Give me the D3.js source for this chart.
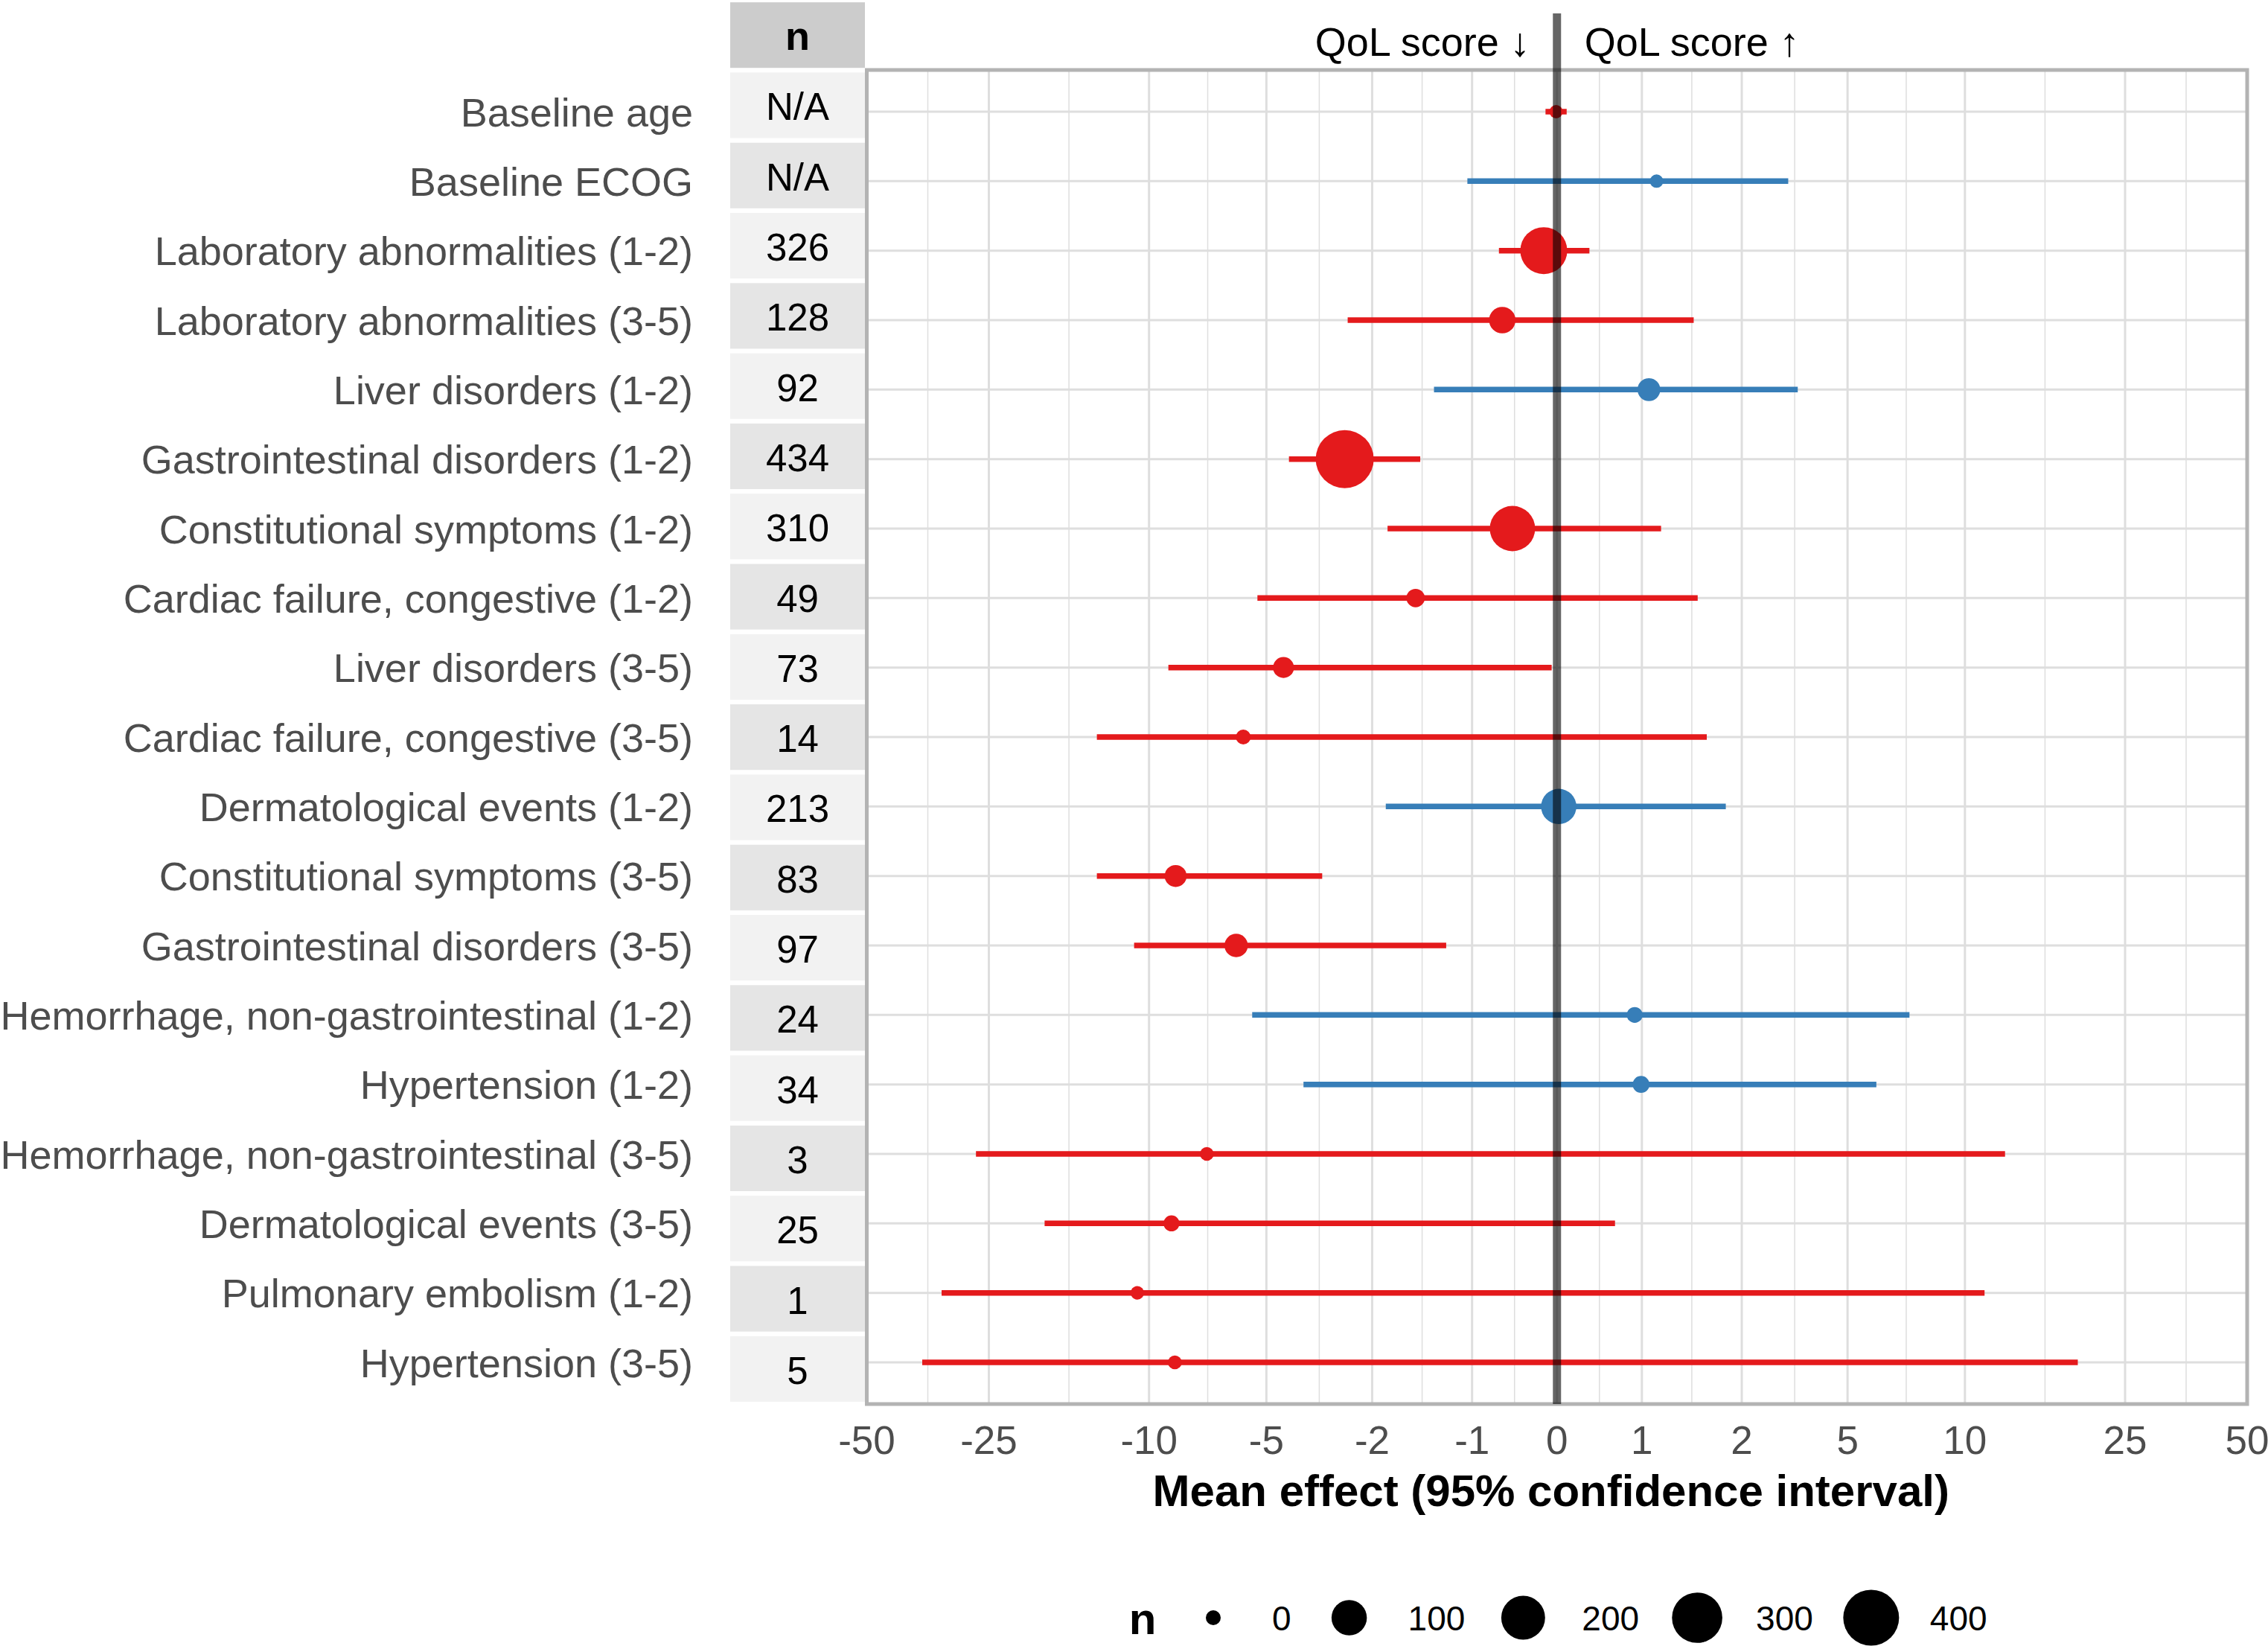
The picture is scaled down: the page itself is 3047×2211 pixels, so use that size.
<!DOCTYPE html>
<html>
<head>
<meta charset="utf-8">
<script src="https://cdn.jsdelivr.net/npm/d3@7"></script>
<style>
  html, body { margin: 0; padding: 0; background: #ffffff; }
  svg { display: block; }
  text { font-family: "Liberation Sans", Arial, Helvetica, sans-serif; }
</style>
</head>
<body>
<script>
// ---------------- DATA ----------------
const categories = [
  "Baseline age",
  "Baseline ECOG",
  "Laboratory abnormalities (1-2)",
  "Laboratory abnormalities (3-5)",
  "Liver disorders (1-2)",
  "Gastrointestinal disorders (1-2)",
  "Constitutional symptoms (1-2)",
  "Cardiac failure, congestive (1-2)",
  "Liver disorders (3-5)",
  "Cardiac failure, congestive (3-5)",
  "Dermatological events (1-2)",
  "Constitutional symptoms (3-5)",
  "Gastrointestinal disorders (3-5)",
  "Hemorrhage, non-gastrointestinal (1-2)",
  "Hypertension (1-2)",
  "Hemorrhage, non-gastrointestinal (3-5)",
  "Dermatological events (3-5)",
  "Pulmonary embolism (1-2)",
  "Hypertension (3-5)"
];
const nLabels = ["N/A","N/A","326","128","92","434","310","49","73","14","213","83","97","24","34","3","25","1","5"];
const nValues = [0, 0, 326, 128, 92, 434, 310, 49, 73, 14, 213, 83, 97, 24, 34, 3, 25, 1, 5];
const meanEffect = [-0.01, 1.19, -0.15, -0.63, 1.09, -3.03, -0.51, -1.78, -4.5, -5.75, 0.02, -8.57, -6.0, 0.91, 0.99, -7.14, -8.78, -10.7, -8.61];
const lowerCI   = [-0.13, -1.06, -0.67, -2.97, -1.51, -4.35, -2.23, -5.28, -8.94, -13.5, -2.26, -13.5, -10.9, -5.45, -3.97, -26.9, -18.2, -32.7, -36.5];
const upperCI   = [0.11, 3.44, 0.37, 1.71, 3.66, -1.71, 1.25, 1.77, -0.06, 1.91, 2.22, -3.52, -1.34, 7.24, 5.95, 12.6, 0.67, 11.2, 19.1];
const xTickValues = [-50, -25, -10, -5, -2.5, -1, 0, 1, 2.5, 5, 10, 25, 50];
const xTickLabels = ["-50", "-25", "-10", "-5", "-2", "-1", "0", "1", "2", "5", "10", "25", "50"];
const legendBreaks = [0, 100, 200, 300, 400];
const tableHeader = "n";
const annotLeft = "QoL score \u2193";
const annotRight = "QoL score \u2191";
const xTitle = "Mean effect (95% confidence interval)";

// ---------------- LAYOUT ----------------
const W = 3047, H = 2211;
const panel = { left: 1164.5, right: 3019, top: 94, bottom: 1886 };
const RED = "#E41A1C", BLUE = "#377EB8";

const svg = d3.select("body").append("svg")
  .attr("width", W).attr("height", H)
  .attr("viewBox", `0 0 ${W} ${H}`);
svg.append("rect").attr("width", W).attr("height", H).attr("fill", "#ffffff");

// pseudo-log transform (asinh(x/2)), as in R's pseudo_log_trans(sigma = 1)
const tr = v => Math.asinh(v / 2);
const xt = d3.scaleLinear().domain([tr(-50), tr(50)]).range([panel.left, panel.right]);
const x = v => xt(tr(v));

const y = d3.scalePoint().domain(categories).range([panel.top, panel.bottom]).padding(0.6);

const sizeScale = d3.scaleLinear().domain([0, 434]).range([18, 78]);     // diameter of data points
const legendSize = d3.scaleSqrt().domain([0, 400]).range([20, 75]);      // diameter of legend keys

// ---------------- GRID ----------------
const grid = svg.append("g");
const tMaj = xTickValues.map(tr);
const tMin = [];
for (let i = 0; i < tMaj.length - 1; i++) tMin.push((tMaj[i] + tMaj[i + 1]) / 2);
grid.selectAll("line.minor").data(tMin).join("line")
  .attr("class", "minor")
  .attr("x1", d => xt(d)).attr("x2", d => xt(d))
  .attr("y1", panel.top).attr("y2", panel.bottom)
  .attr("stroke", "#DEDEDE").attr("stroke-width", 1.5);
grid.selectAll("line.majx").data(xTickValues).join("line")
  .attr("class", "majx")
  .attr("x1", d => x(d)).attr("x2", d => x(d))
  .attr("y1", panel.top).attr("y2", panel.bottom)
  .attr("stroke", "#DEDEDE").attr("stroke-width", 3);
grid.selectAll("line.majy").data(categories).join("line")
  .attr("class", "majy")
  .attr("x1", panel.left).attr("x2", panel.right)
  .attr("y1", d => y(d)).attr("y2", d => y(d))
  .attr("stroke", "#DEDEDE").attr("stroke-width", 3);

// ---------------- DATA MARKS ----------------
const rows = categories.map((c, i) => ({
  cat: c, n: nValues[i], mean: meanEffect[i], lo: lowerCI[i], hi: upperCI[i]
}));
const col = d => d.mean > 0 ? BLUE : RED;

const marks = svg.append("g");
marks.selectAll("line.ci").data(rows).join("line")
  .attr("class", "ci")
  .attr("x1", d => x(d.lo)).attr("x2", d => x(d.hi))
  .attr("y1", d => y(d.cat)).attr("y2", d => y(d.cat))
  .attr("stroke", col).attr("stroke-width", 7.5);
marks.selectAll("circle.pt").data(rows).join("circle")
  .attr("class", "pt")
  .attr("cx", d => x(d.mean)).attr("cy", d => y(d.cat))
  .attr("r", d => sizeScale(d.n) / 2)
  .attr("fill", col);

// ---------------- PANEL BORDER ----------------
svg.append("rect")
  .attr("x", panel.left).attr("y", panel.top)
  .attr("width", panel.right - panel.left).attr("height", panel.bottom - panel.top)
  .attr("fill", "none").attr("stroke", "#B3B3B3").attr("stroke-width", 5);

// zero reference line (drawn on top, semi-transparent)
svg.append("line")
  .attr("x1", x(0)).attr("x2", x(0))
  .attr("y1", 18).attr("y2", panel.bottom)
  .attr("stroke", "#000000").attr("stroke-opacity", 0.6).attr("stroke-width", 11);

// annotations
svg.append("text").attr("x", x(0) - 36).attr("y", 75)
  .attr("text-anchor", "end").attr("font-size", 54).attr("fill", "#000")
  .text(annotLeft);
svg.append("text").attr("x", x(0) + 37).attr("y", 75)
  .attr("text-anchor", "start").attr("font-size", 54).attr("fill", "#000")
  .text(annotRight);

// ---------------- X AXIS ----------------
const xAxisG = svg.append("g");
xAxisG.selectAll("text").data(xTickValues).join("text")
  .attr("x", d => x(d)).attr("y", 1953)
  .attr("text-anchor", "middle").attr("font-size", 53).attr("fill", "#4D4D4D")
  .text((d, i) => xTickLabels[i]);
svg.append("text")
  .attr("x", (panel.left + panel.right) / 2 - 8).attr("y", 2023)
  .attr("text-anchor", "middle").attr("font-size", 60).attr("font-weight", "bold")
  .attr("fill", "#000").text(xTitle);

// ---------------- Y LABELS ----------------
svg.append("g").selectAll("text").data(categories).join("text")
  .attr("x", 931).attr("y", d => y(d) + 19.5)
  .attr("text-anchor", "end").attr("font-size", 54).attr("fill", "#4D4D4D")
  .text(d => d);

// ---------------- n TABLE ----------------
const tableKeys = [tableHeader].concat(categories);
const tb = d3.scaleBand().domain(tableKeys).range([0, 20 * 94.3])
  .paddingInner(0.066).paddingOuter(0.033);
const table = svg.append("g");
table.selectAll("rect").data(tableKeys).join("rect")
  .attr("x", 981).attr("width", 181)
  .attr("y", d => tb(d)).attr("height", tb.bandwidth())
  .attr("fill", (d, i) => i === 0 ? "#CCCCCC" : (i % 2 === 1 ? "#F2F2F2" : "#E5E5E5"));
table.selectAll("text").data(tableKeys).join("text")
  .attr("x", 1071.5)
  .attr("y", d => tb(d) + tb.bandwidth() / 2 + 20)
  .attr("text-anchor", "middle")
  .attr("font-size", (d, i) => i === 0 ? 54 : 51)
  .attr("font-weight", (d, i) => i === 0 ? "bold" : "normal")
  .attr("fill", "#000")
  .text((d, i) => i === 0 ? tableHeader : nLabels[i - 1]);

// ---------------- LEGEND ----------------
const lg = svg.append("g");
lg.append("text").attr("x", 1535).attr("y", 2195)
  .attr("text-anchor", "middle").attr("font-size", 60).attr("font-weight", "bold")
  .attr("fill", "#000").text("n");
let cx = 1630;
legendBreaks.forEach(b => {
  lg.append("circle").attr("cx", cx).attr("cy", 2173)
    .attr("r", legendSize(b) / 2).attr("fill", "#000");
  const t = lg.append("text").attr("x", cx + 79).attr("y", 2190)
    .attr("font-size", 46).attr("fill", "#000").text(String(b));
  const w = t.node().getComputedTextLength();
  cx = cx + 79 + w + 78;
});
</script>
</body>
</html>
